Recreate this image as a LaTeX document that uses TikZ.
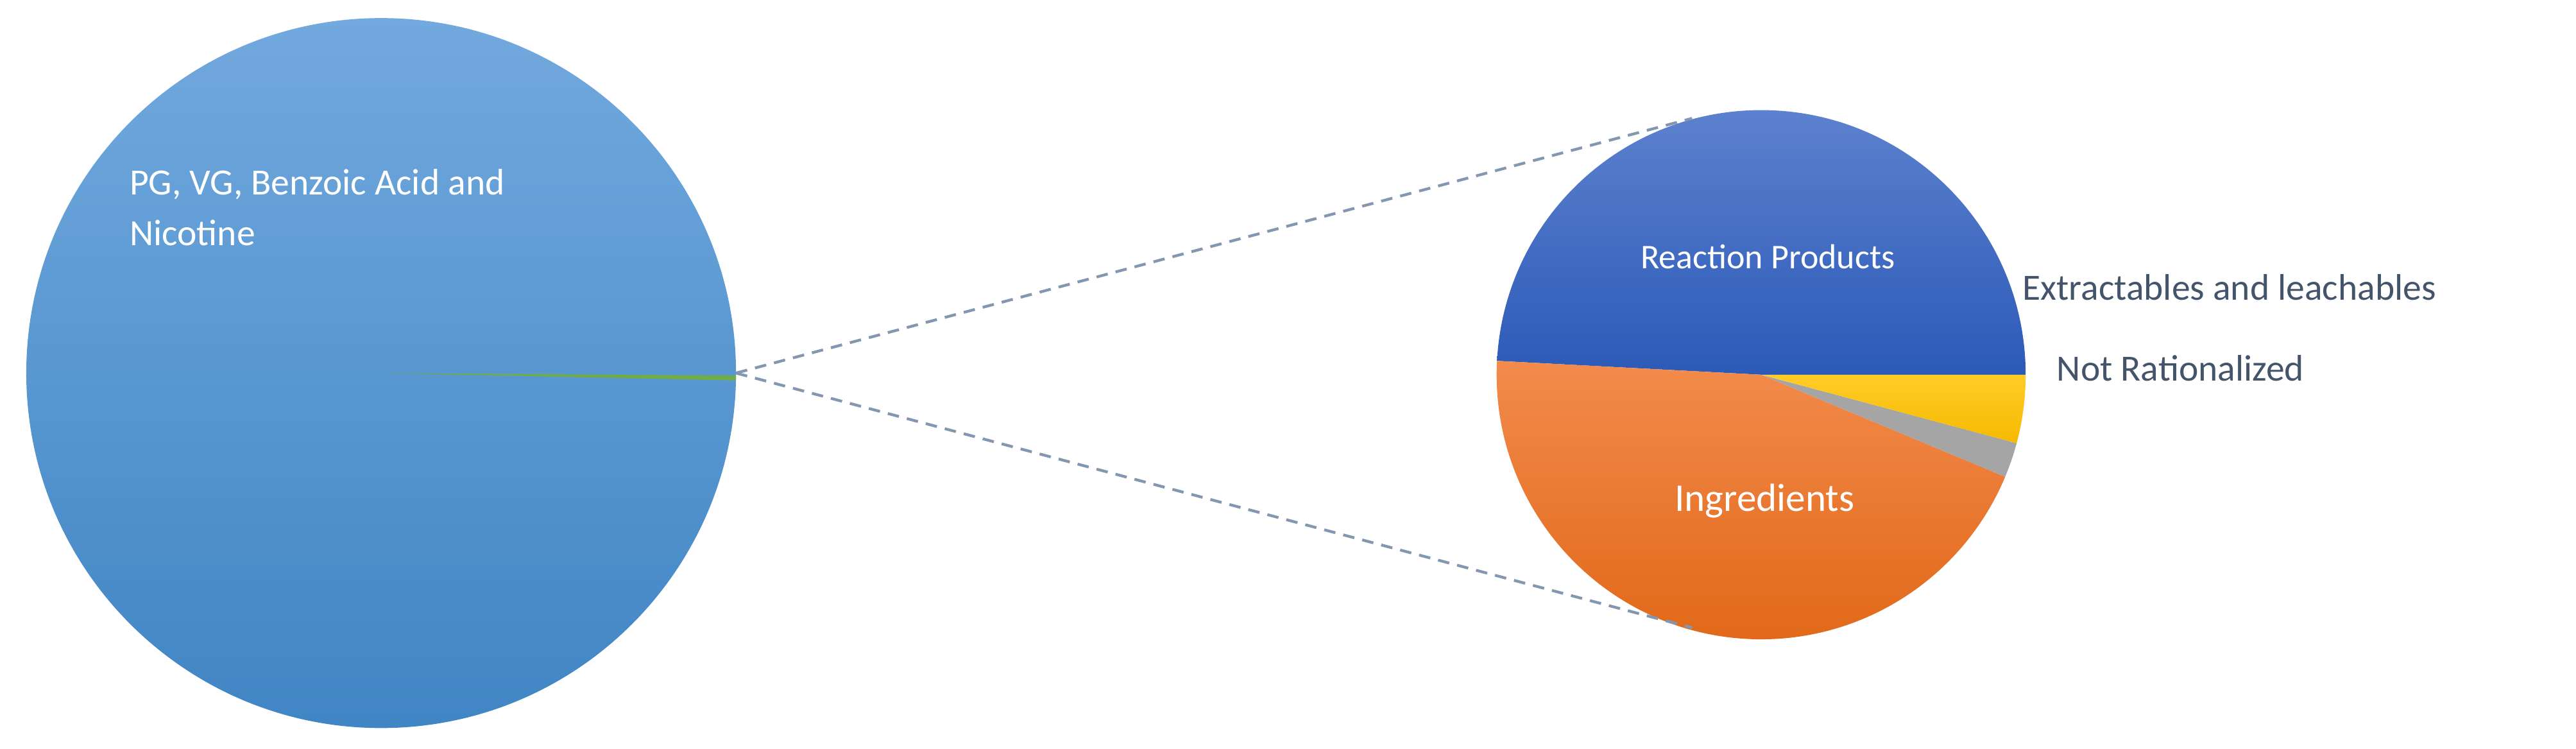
\documentclass[tikz,border=0pt]{standalone}
\usepackage{fontspec}
\setmainfont{Carlito}
\definecolor{bluet}{RGB}{114,169,222}
\definecolor{blueb}{RGB}{64,133,196}
\definecolor{grn}{RGB}{112,173,71}
\definecolor{ingt}{RGB}{92,129,206}
\definecolor{ingb}{RGB}{44,90,184}
\definecolor{orgt}{RGB}{242,139,76}
\definecolor{orgb}{RGB}{225,104,24}
\definecolor{gry}{RGB}{165,165,165}
\definecolor{ylwt}{RGB}{255,204,40}
\definecolor{ylwb}{RGB}{245,185,0}
\definecolor{txt}{RGB}{68,84,106}
\definecolor{dsh}{RGB}{132,151,176}
\begin{document}
\begin{tikzpicture}[x=0.025cm,y=-0.025cm,
  lbl/.style={text=white,font=\fontsize{15}{18}\selectfont},
  side/.style={text=txt,font=\fontsize{16}{19}\selectfont,anchor=west},
  zoomline/.style={draw=dsh,line width=1.2pt,dash pattern=on 5pt off 3.5pt}]
\useasboundingbox (0,0) rectangle (1568,455.4);
\coordinate (bc) at (232,227);
\coordinate (sc) at (1072,228);
% big circle
\shade[top color=bluet, bottom color=blueb] (bc) circle[radius=216];
\fill[grn] (bc) -- ++(0.4:216) -- ++(0,3) -- cycle;
\node[lbl,anchor=north west,align=left,font=\fontsize{16}{22}\selectfont] (t1) at (74,98) {PG, VG, Benzoic Acid and\\Nicotine};
% small pie
\shade[top color=ingt, bottom color=ingb] (sc) -- ++(0:161) arc[start angle=0,end angle=-177,radius=161] -- cycle;
\shade[top color=orgt, bottom color=orgb] (sc) -- ++(183:161) arc[start angle=183,end angle=22.7,radius=161] -- cycle;
\fill[gry] (sc) -- ++(22.7:161) arc[start angle=22.7,end angle=15,radius=161] -- cycle;
\shade[top color=ylwt, bottom color=ylwb] (sc) -- ++(15:161) arc[start angle=15,end angle=0,radius=161] -- cycle;
\node[lbl] (rp) at (1076,156) {Reaction Products};
\node[lbl,font=\fontsize{17}{20}\selectfont] (ing) at (1074,305) {Ingredients};
\node[side] (el) at (1226,175) {Extractables and leachables};
\node[side] (nr) at (1247,224) {Not Rationalized};
% connectors
\coordinate (p) at (448,227);
\coordinate (q1) at (1030,72);
\coordinate (q2) at (1030,382);
\draw[zoomline] (p) -- (q1);
\draw[zoomline] (p) -- (q2);
\end{tikzpicture}
\end{document}
